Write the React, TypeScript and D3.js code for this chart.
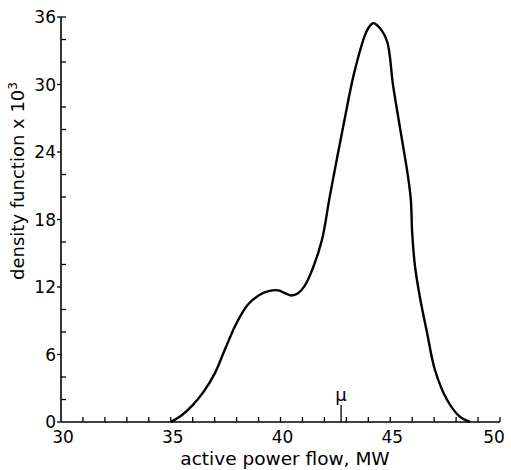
import React from "react";
import * as d3 from "d3";

const xTickValues = [30, 35, 40, 45, 50];
const yTickValues = [0, 6, 12, 18, 24, 30, 36];
const curveX = [35, 35.5, 36, 36.5, 37, 37.5, 38, 38.5, 39, 39.5, 39.9, 40.2, 40.5, 40.8, 41.1, 41.48, 41.89, 42.25, 42.85, 43.39, 43.94, 44.21, 44.53, 44.86, 45.13, 45.44, 45.81, 45.94, 46.0, 46.13, 46.36, 46.67, 47.04, 47.58, 48.18, 48.63];
const curveY = [0, 0.6, 1.5, 2.7, 4.3, 6.6, 8.8, 10.4, 11.25, 11.65, 11.7, 11.45, 11.25, 11.45, 12.1, 13.7, 16.2, 20.1, 26.2, 31.3, 34.8, 35.45, 35.0, 33.8, 29.9, 26.2, 21.8, 19.7, 16.8, 13.8, 11.0, 8.0, 4.6, 2.0, 0.45, 0];
const muValue = 42.76;

export default function App() {
  const W = 511, H = 470;
  const x = d3.scaleLinear().domain([30, 50]).range([61, 500]);
  const y = d3.scaleLinear().domain([0, 36]).range([422, 17]);
  const pts: [number, number][] = curveX.map((v, i) => [v, curveY[i]]);
  const line = d3
    .line<[number, number]>()
    .x((d) => x(d[0]))
    .y((d) => y(d[1]))
    .curve(d3.curveCatmullRom.alpha(0.5));
  const xMinor = d3.range(31, 51, 1);
  const yMinor = d3.range(0, 37, 2).filter((v) => v % 6 !== 0);
  const font = "DejaVu Sans, sans-serif";
  return (
    <svg width={W} height={H} style={{ position: "absolute", left: 0, top: 0, background: "#fff" }} fontFamily={font}>
      <g stroke="#000" strokeWidth={1.6} fill="none">
        <line x1={x(30)} y1={y(0)} x2={x(50)} y2={y(0)} />
        <line x1={x(30)} y1={y(0)} x2={x(30)} y2={y(36)} />
        {xMinor.map((v) => (
          <line key={"xt" + v} x1={x(v)} x2={x(v)} y1={y(0)} y2={y(0) - 5} strokeWidth={1.3} />
        ))}
        {yMinor.map((v) => (
          <line key={"ym" + v} x1={x(30)} x2={x(30) + 5} y1={y(v)} y2={y(v)} strokeWidth={1.3} />
        ))}
        {yTickValues.map((v) => (
          <line key={"yt" + v} x1={x(30) - 4} x2={x(30)} y1={y(v)} y2={y(v)} strokeWidth={1.3} />
        ))}
        <line x1={x(30)} x2={x(30) + 5} y1={y(36)} y2={y(36)} strokeWidth={1.3} />
        <line x1={x(muValue)} x2={x(muValue)} y1={y(0)} y2={y(0) - 17} strokeWidth={1.3} />
        <path d={line(pts) || ""} strokeWidth={2.4} strokeLinejoin="round" />
      </g>
      <g fontSize={17} fill="#000">
        {yTickValues.map((v) => (
          <text key={"yl" + v} x={x(30) - 5} y={y(v)} dy="0.36em" textAnchor="end">
            {v}
          </text>
        ))}
        {xTickValues.map((v) => (
          <text key={"xl" + v} x={Math.min(x(v) + 2, W - 17)} y={y(0) + 21} textAnchor="middle">
            {v}
          </text>
        ))}
        <text x={x(muValue)} y={y(0) - 21} textAnchor="middle" fontSize={18}>μ</text>
        <text x={285} y={465} textAnchor="middle" fontSize={18.5}>active power flow, MW</text>
        <text transform="translate(24,181) rotate(-90)" textAnchor="middle" fontSize={18}>
          density function x 10<tspan dy="-7" fontSize={12}>3</tspan>
        </text>
      </g>
    </svg>
  );
}
